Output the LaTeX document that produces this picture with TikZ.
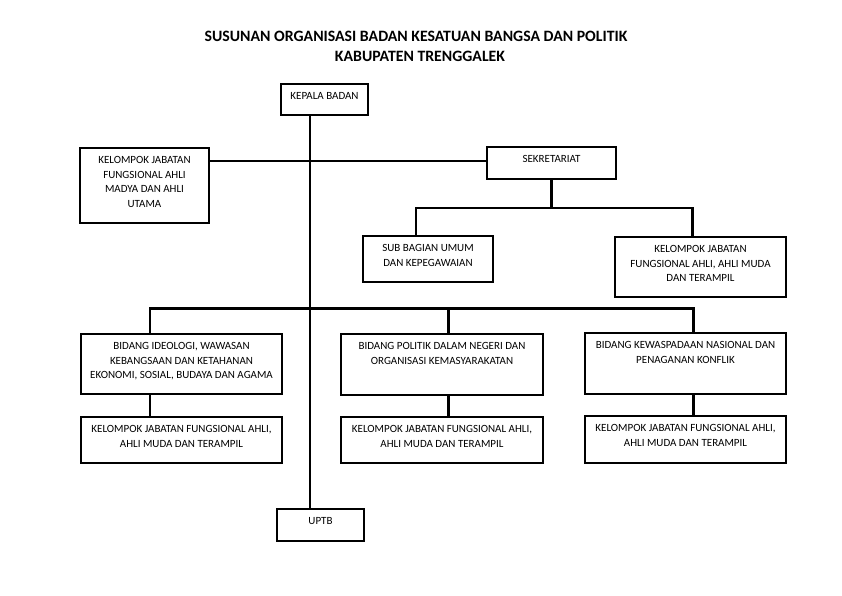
\documentclass[tikz,border=0pt]{standalone}
\usepackage{fontspec}
\setmainfont{Carlito}
\begin{document}
\begin{tikzpicture}[x=1pt,y=-1pt,
  box/.style={draw=black, line width=1.3pt, rectangle, inner sep=0pt, outer sep=0pt},
  txt/.style={inner sep=0pt, align=center, anchor=north, font=\fontsize{11}{14.5}\selectfont},
  ttl/.style={inner sep=0pt, font=\bfseries\fontsize{15.8}{21}\selectfont},
  conn/.style={line width=2.6pt, line cap=butt}]
\useasboundingbox (0,0) rectangle (842,595);
\newcommand\orgbox[6]{%
  \node[box, minimum width={(#4-#2)*1pt}, minimum height={(#5-#3)*1pt}] (#1) at ({(#2+#4)/2},{(#3+#5)/2}) {};
  \node[txt] (#1t) at ([yshift=-8.5pt]#1.north) {#6};}
\node[ttl] (title1) at (416,36) {SUSUNAN ORGANISASI BADAN KESATUAN BANGSA DAN POLITIK};
\node[ttl] (title2) at (420,56.5) {KABUPATEN TRENGGALEK};
\orgbox{kepala}{281}{84}{368}{115}{KEPALA BADAN}
\orgbox{jfmadya}{80}{148}{209}{223}{KELOMPOK JABATAN\\FUNGSIONAL AHLI\\MADYA DAN AHLI\\UTAMA}
\orgbox{sek}{487}{147}{616}{179}{SEKRETARIAT}
\orgbox{sub}{363}{236}{493}{282}{SUB BAGIAN UMUM\\DAN KEPEGAWAIAN}
\orgbox{jfsek}{615}{237}{786}{297}{KELOMPOK JABATAN\\FUNGSIONAL AHLI, AHLI MUDA\\DAN TERAMPIL}
\orgbox{bid1}{81}{334}{282}{394}{BIDANG IDEOLOGI, WAWASAN\\KEBANGSAAN DAN KETAHANAN\\EKONOMI, SOSIAL, BUDAYA DAN AGAMA}
\orgbox{bid2}{341}{334}{543}{395}{BIDANG POLITIK DALAM NEGERI DAN\\ORGANISASI KEMASYARAKATAN}
\orgbox{bid3}{585}{333}{786}{394}{BIDANG KEWASPADAAN NASIONAL DAN\\PENAGANAN KONFLIK}
\orgbox{jf1}{81}{417}{282}{463}{KELOMPOK JABATAN FUNGSIONAL AHLI,\\AHLI MUDA DAN TERAMPIL}
\orgbox{jf2}{341}{417}{543}{463}{KELOMPOK JABATAN FUNGSIONAL AHLI,\\AHLI MUDA DAN TERAMPIL}
\orgbox{jf3}{585}{416}{786}{463}{KELOMPOK JABATAN FUNGSIONAL AHLI,\\AHLI MUDA DAN TERAMPIL}
\orgbox{uptb}{277}{509}{364}{541}{UPTB}
% helper coordinates
\coordinate (spine) at (310,0);
\coordinate (h1) at (0,161);
\coordinate (h2) at (0,208);
\coordinate (h3) at (0,308.5);
\coordinate (dsub) at (416,0);
\coordinate (djf) at (692.5,0);
\coordinate (d1) at (150,0);
\coordinate (d2) at (448.5,0);
\coordinate (d3) at (693.3,0);
\draw[conn] (kepala.south -| spine) -- (uptb.north -| spine);
\draw[conn] (jfmadya.east |- h1) -- (sek.west |- h1);
\draw[conn] (sek.south) -- (sek.south |- h2);
\draw[conn, line join=miter] (sub.north -| dsub) -- (dsub |- h2) -- (djf |- h2) -- (jfsek.north -| djf);
\draw[conn, line join=miter] (bid1.north -| d1) -- (d1 |- h3) -- (d3 |- h3) -- (bid3.north -| d3);
\draw[conn] (d2 |- h3) -- (bid2.north -| d2);
\draw[conn] (bid1.south -| d1) -- (jf1.north -| d1);
\draw[conn] (bid2.south -| d2) -- (jf2.north -| d2);
\draw[conn] (bid3.south -| d3) -- (jf3.north -| d3);
\end{tikzpicture}
\end{document}
